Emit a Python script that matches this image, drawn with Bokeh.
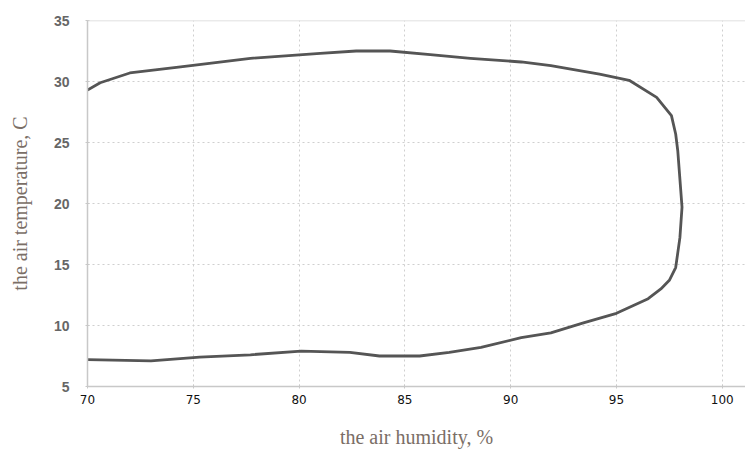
from bokeh.plotting import figure
from bokeh.embed import file_html
from bokeh.resources import INLINE
from bokeh.models import Span, FixedTicker, Range1d

# Data (single contour from upper-left, round the right, to lower-left)
humidity = [70.0, 70.6, 72.0, 74.4, 77.7, 81.0, 82.7, 84.3, 86.2, 88.1, 90.5, 91.9, 94.2,
            95.6, 96.9, 97.6, 97.8, 97.9, 98.1, 98.0, 97.8, 97.5, 97.1, 96.5, 95.0,
            93.4, 91.9, 90.5, 88.6, 87.1, 85.7, 83.8, 82.4, 80.1, 77.7, 75.3, 73.0, 70.0]
temperature = [29.3, 29.9, 30.7, 31.2, 31.9, 32.3, 32.5, 32.5, 32.2, 31.9, 31.6, 31.3, 30.6,
               30.1, 28.7, 27.2, 25.7, 24.3, 19.7, 17.2, 14.75, 13.7, 13.0, 12.2, 11.0,
               10.2, 9.4, 9.0, 8.2, 7.8, 7.5, 7.5, 7.8, 7.9, 7.6, 7.4, 7.1, 7.2]
x_ticks = [70, 75, 80, 85, 90, 95, 100]
y_ticks = [5, 10, 15, 20, 25, 30, 35]

p = figure(width=745, height=451, output_backend="svg", toolbar_location=None,
           x_range=Range1d(70, 101.1), y_range=Range1d(5, 35),
           min_border_left=87, min_border_top=20, min_border_bottom=65, min_border_right=0)
p.outline_line_color = None
p.background_fill_color = "white"

p.line(humidity, temperature, line_color="#555555", line_width=2.8, line_join="round")

p.xaxis.ticker = FixedTicker(ticks=x_ticks)
p.yaxis.ticker = FixedTicker(ticks=y_ticks)

for ax in (p.xaxis[0], p.yaxis[0]):
    ax.axis_line_color = "#c8c8c8"
    ax.axis_line_width = 1.5
    ax.major_tick_line_color = "#c8c8c8"
    ax.major_tick_in = 2
    ax.major_tick_out = 2
    ax.minor_tick_line_color = None
    ax.axis_label_text_font = "Liberation Serif"
    ax.axis_label_text_font_style = "normal"
    ax.axis_label_text_font_size = "20px"
    ax.axis_label_text_color = "#7a6e66"

p.xaxis.axis_label = "the air humidity, %"
p.yaxis.axis_label = "the air temperature, C"
p.xaxis.major_label_text_font = "DejaVu Sans"
p.xaxis.major_label_text_font_size = "12px"
p.xaxis.major_label_text_color = "#111111"
p.xaxis.major_label_standoff = 6
p.xaxis.axis_label_standoff = 19
p.yaxis.major_label_text_font = "Liberation Sans"
p.yaxis.major_label_text_font_style = "bold"
p.yaxis.major_label_text_font_size = "14px"
p.yaxis.major_label_text_color = "#666666"
p.yaxis.major_label_standoff = 16
p.yaxis.axis_label_standoff = 20

for g in (p.xgrid[0], p.ygrid[0]):
    g.grid_line_color = "#cfcfcf"
    g.grid_line_dash = "2 3"
    g.grid_line_width = 1

p.add_layout(Span(location=35, dimension="width", line_color="#d6d6d6", line_width=1.5))

open("out.html", "w").write(file_html(p, INLINE))
